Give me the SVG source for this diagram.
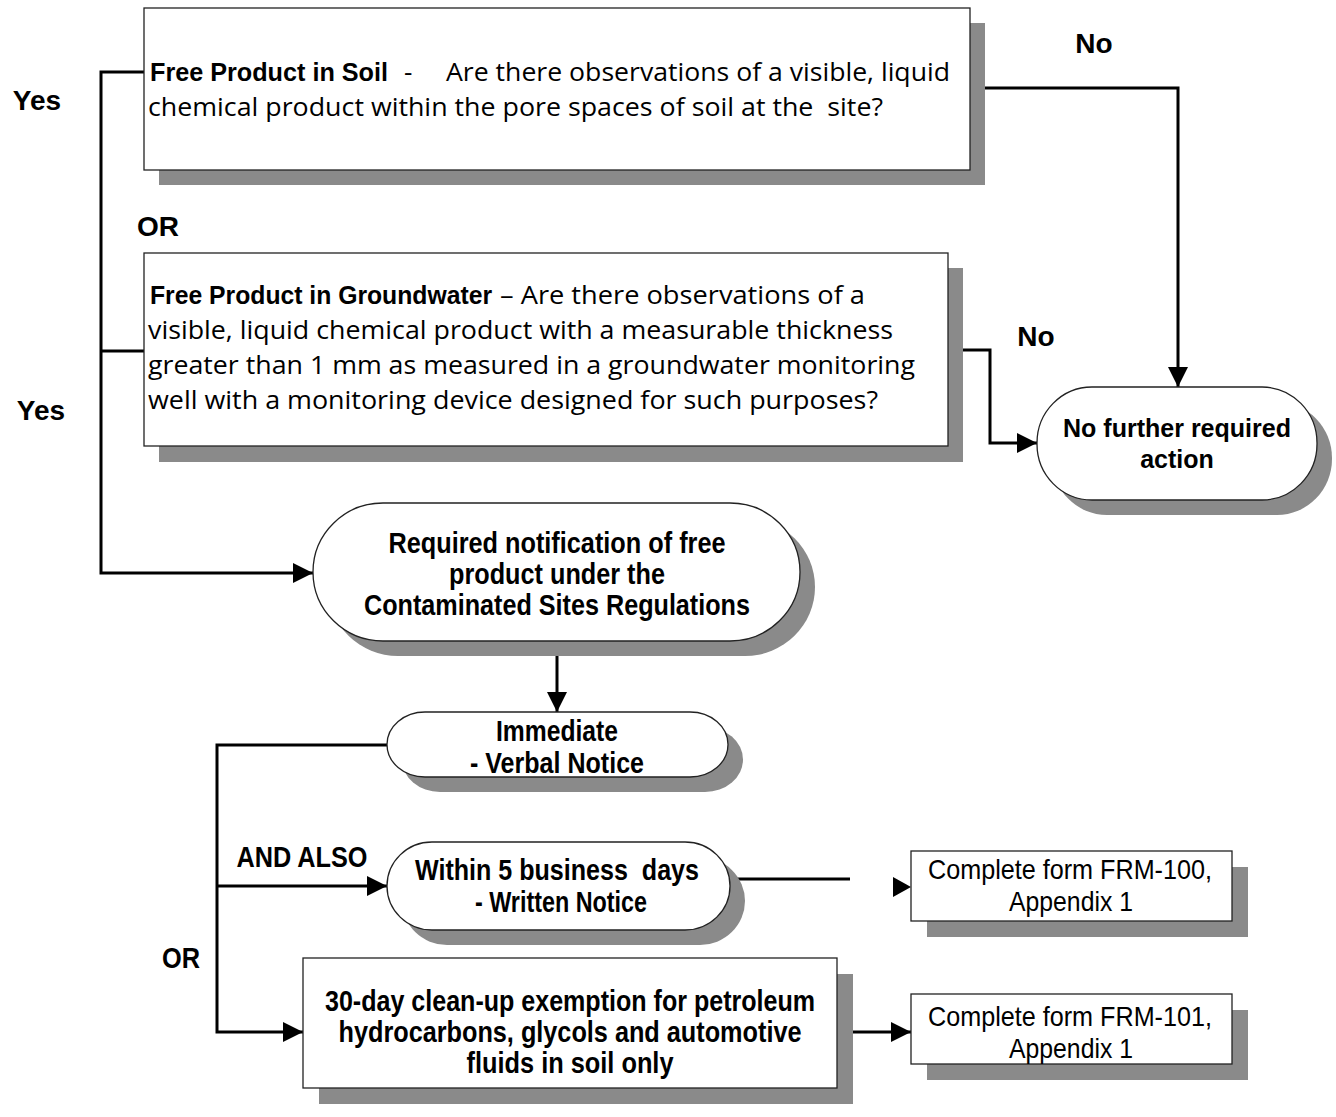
<svg xmlns="http://www.w3.org/2000/svg" width="1336" height="1117" viewBox="0 0 1336 1117">
<style>
.bg{fill:#ffffff}
.sh{fill:#8a8a8a;stroke:none}
.nd{fill:#ffffff;stroke:#222222;stroke-width:1.3}
.cn{fill:none;stroke:#000000;stroke-width:3}
.lbl{font-family:"Liberation Sans",Arial,sans-serif;font-weight:bold;font-size:28px;fill:#000}
.bq{font-family:"Liberation Sans",Arial,sans-serif;font-weight:bold;font-size:25px;fill:#000}
.reg{font-family:"Open Sans","Noto Sans",sans-serif;font-size:26px;fill:#000;white-space:pre}
.nb{font-family:"Liberation Sans Narrow","Liberation Sans",Arial,sans-serif;font-weight:bold;font-size:29px;fill:#000;text-anchor:middle;white-space:pre}
.nr{font-family:"Liberation Sans Narrow","Liberation Sans",Arial,sans-serif;font-size:28px;fill:#000;text-anchor:middle}
.wb{font-family:"Liberation Sans",Arial,sans-serif;font-weight:bold;font-size:25px;fill:#000;text-anchor:middle}
</style>
<defs>
<marker id="ah" markerUnits="userSpaceOnUse" markerWidth="20" markerHeight="20" refX="20" refY="10" orient="auto">
<path d="M0,0 L20,10 L0,20 z" fill="#000"/>
</marker>
</defs>
<rect class="bg" x="0" y="0" width="1336" height="1117"/>

<g id="connectors">
<path class="cn" d="M144,72 H101 V573 H313" marker-end="url(#ah)"/>
<path class="cn" d="M101,351 H144"/>
<path class="cn" d="M970,88 H1178 V387" marker-end="url(#ah)"/>
<path class="cn" d="M963,350 H990 V443 H1037" marker-end="url(#ah)"/>
<path class="cn" d="M557,641 V712" marker-end="url(#ah)"/>
<path class="cn" d="M387,745 H217 V1032 H303" marker-end="url(#ah)"/>
<path class="cn" d="M217,886 H387" marker-end="url(#ah)"/>
<path class="cn" d="M730,879 H850"/>
<path d="M893,877 L911,887 L893,897 z" fill="#000"/>
<path class="cn" d="M853,1032 H911" marker-end="url(#ah)"/>
</g>

<g id="labels">
<text class="lbl" x="37" y="110" text-anchor="middle">Yes</text>
<text class="lbl" x="41" y="420" text-anchor="middle">Yes</text>
<text class="lbl" x="158" y="236" text-anchor="middle">OR</text>
<text class="lbl" x="1094" y="53" text-anchor="middle">No</text>
<text class="lbl" x="1036" y="346" text-anchor="middle">No</text>
<text class="nb" x="302" y="867" textLength="131" lengthAdjust="spacingAndGlyphs">AND ALSO</text>
<text class="nb" x="181" y="968" textLength="38" lengthAdjust="spacingAndGlyphs">OR</text>
</g>

<g id="node-soil">
<rect class="sh" x="159" y="23" width="826" height="162"/>
<rect class="nd" x="144" y="8" width="826" height="162"/>
<text class="bq" x="150" y="81" textLength="238" lengthAdjust="spacingAndGlyphs">Free Product in Soil</text>
<text class="reg" x="404" y="81">-</text>
<text class="reg" x="446" y="81" textLength="504" lengthAdjust="spacingAndGlyphs">Are there observations of a visible, liquid</text>
<text class="reg" x="148" y="116" textLength="735" lengthAdjust="spacingAndGlyphs" xml:space="preserve">chemical product within the pore spaces of soil at the  site?</text>
</g>

<g id="node-groundwater">
<rect class="sh" x="159" y="268" width="804" height="194"/>
<rect class="nd" x="144" y="253" width="804" height="193"/>
<text class="bq" x="150" y="304" textLength="342" lengthAdjust="spacingAndGlyphs">Free Product in Groundwater</text>
<text class="reg" x="500" y="304" textLength="365" lengthAdjust="spacingAndGlyphs">– Are there observations of a</text>
<text class="reg" x="148" y="339" textLength="745" lengthAdjust="spacingAndGlyphs">visible, liquid chemical product with a measurable thickness</text>
<text class="reg" x="148" y="374" textLength="767" lengthAdjust="spacingAndGlyphs">greater than 1 mm as measured in a groundwater monitoring</text>
<text class="reg" x="148" y="409" textLength="730" lengthAdjust="spacingAndGlyphs">well with a monitoring device designed for such purposes?</text>
</g>

<g id="node-no-action">
<rect class="sh" x="1052" y="402" width="280" height="113" rx="55" ry="56"/>
<rect class="nd" x="1037" y="387" width="280" height="113" rx="55" ry="56"/>
<text class="wb" x="1177" y="437" textLength="228" lengthAdjust="spacingAndGlyphs">No further required</text>
<text class="wb" x="1177" y="468">action</text>
</g>

<g id="node-required">
<rect class="sh" x="328" y="518" width="487" height="138" rx="70" ry="69"/>
<rect class="nd" x="313" y="503" width="487" height="138" rx="70" ry="69"/>
<text class="nb" x="557" y="553" textLength="337" lengthAdjust="spacingAndGlyphs">Required notification of free</text>
<text class="nb" x="557" y="584" textLength="216" lengthAdjust="spacingAndGlyphs">product under the</text>
<text class="nb" x="557" y="615" textLength="386" lengthAdjust="spacingAndGlyphs">Contaminated Sites Regulations</text>
</g>

<g id="node-immediate">
<rect class="sh" x="402" y="727" width="341" height="65" rx="38" ry="32.5"/>
<rect class="nd" x="387" y="712" width="341" height="65" rx="38" ry="32.5"/>
<text class="nb" x="557" y="741" textLength="122" lengthAdjust="spacingAndGlyphs">Immediate</text>
<text class="nb" x="557" y="773" textLength="174" lengthAdjust="spacingAndGlyphs">- Verbal Notice</text>
</g>

<g id="node-written">
<rect class="sh" x="402" y="857" width="343" height="88" rx="45" ry="44"/>
<rect class="nd" x="387" y="842" width="343" height="88" rx="45" ry="44"/>
<text class="nb" x="557" y="880" textLength="284" lengthAdjust="spacingAndGlyphs" xml:space="preserve">Within 5 business  days</text>
<text class="nb" x="561" y="912" textLength="172" lengthAdjust="spacingAndGlyphs">- Written Notice</text>
</g>

<g id="node-frm100">
<rect class="sh" x="927" y="867" width="321" height="70"/>
<rect class="nd" x="911" y="851" width="321" height="70"/>
<text class="nr" x="1070" y="879" textLength="284" lengthAdjust="spacingAndGlyphs">Complete form FRM-100,</text>
<text class="nr" x="1071" y="911" textLength="124" lengthAdjust="spacingAndGlyphs">Appendix 1</text>
</g>

<g id="node-exemption">
<rect class="sh" x="319" y="974" width="534" height="130"/>
<rect class="nd" x="303" y="958" width="534" height="130"/>
<text class="nb" x="570" y="1011" textLength="490" lengthAdjust="spacingAndGlyphs">30-day clean-up exemption for petroleum</text>
<text class="nb" x="570" y="1042" textLength="463" lengthAdjust="spacingAndGlyphs">hydrocarbons, glycols and automotive</text>
<text class="nb" x="570" y="1073" textLength="207" lengthAdjust="spacingAndGlyphs">fluids in soil only</text>
</g>

<g id="node-frm101">
<rect class="sh" x="927" y="1010" width="321" height="70"/>
<rect class="nd" x="911" y="994" width="321" height="70"/>
<text class="nr" x="1070" y="1026" textLength="284" lengthAdjust="spacingAndGlyphs">Complete form FRM-101,</text>
<text class="nr" x="1071" y="1058" textLength="124" lengthAdjust="spacingAndGlyphs">Appendix 1</text>
</g>
</svg>
